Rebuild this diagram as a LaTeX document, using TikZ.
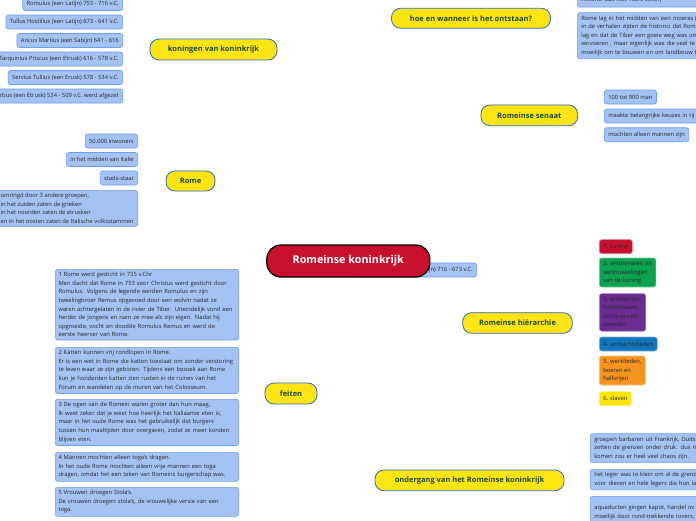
\documentclass[tikz,border=0pt]{standalone}
\usepackage{fontspec}
\setmainfont{Open Sans}
\usetikzlibrary{calc}
\definecolor{leafblue}{HTML}{A4C2F4}
\definecolor{leafborder}{HTML}{6D9EEB}
\definecolor{mainyellow}{HTML}{FFE414}
\definecolor{mainborder}{HTML}{2A6BC9}
\definecolor{maintext}{HTML}{1B4B2A}
\definecolor{ctrred}{HTML}{C8102E}
\definecolor{mgray}{HTML}{A8A8A8}
\definecolor{lfgray}{HTML}{CACACA}
\definecolor{textdark}{HTML}{262626}
\definecolor{hred}{HTML}{C8102E}
\definecolor{hgreen}{HTML}{0BA350}
\definecolor{hpurple}{HTML}{6A2C91}
\definecolor{hblue}{HTML}{1275BD}
\definecolor{horange}{HTML}{F7941D}
\definecolor{hyellow}{HTML}{FFE600}
\pgfdeclarelayer{bg}
\pgfsetlayers{bg,main}
\newcommand\lffont{\fontsize{5.8}{8.6}\selectfont}
\newcommand\mnfont{\bfseries\fontsize{7.5}{9}\selectfont}
\newcommand\ctfont{\bfseries\fontsize{10.8}{12}\selectfont}
\begin{document}
\begin{tikzpicture}[x=1pt,y=-1pt,
  leaf/.style={draw=leafborder,fill=leafblue,rounded corners=2.5pt,line width=0.6pt,inner xsep=4pt,inner ysep=3pt,minimum height=14pt,font=\lffont,align=left,text=textdark},
  hbox/.style={leaf,fill=#1,draw=#1!55!white},
  mainnode/.style={draw=mainborder,fill=mainyellow,rounded corners=9pt,line width=0.8pt,inner sep=0pt,font=\mnfont,text=maintext},
  ctrnode/.style={draw=black,fill=ctrred,rounded corners=14pt,line width=1.2pt,inner sep=0pt,font=\ctfont,text=white},
  mline/.style={draw=mgray,line width=0.9pt},
  lline/.style={draw=lfgray,line width=0.5pt}]
\useasboundingbox (0,0) rectangle (696,520);
\clip (0,0) rectangle (696,520);
\fill[white] (0,0) rectangle (696,520);

% main nodes
\node[mainnode,minimum width=127pt,minimum height=21pt] (kon) at (213.5,49.5) {koningen van koninkrijk};
\node[mainnode,minimum width=49pt,minimum height=20pt] (rome) at (190.5,181) {Rome};
\node[mainnode,minimum width=52pt,minimum height=21pt] (feit) at (291,393.5) {feiten};
\node[mainnode,minimum width=159pt,minimum height=20pt] (hoe) at (471,18.3) {hoe en wanneer is het ontstaan?};
\node[mainnode,minimum width=96.7pt,minimum height=20.7pt] (sen) at (529.3,115.3) {Romeinse senaat};
\node[mainnode,minimum width=109.6pt,minimum height=20.6pt] (hier) at (517.5,323) {Romeinse hiërarchie};
\node[mainnode,minimum width=189pt,minimum height=20.7pt] (ond) at (469.5,480.3) {ondergang van het Romeinse koninkrijk};

% koningen leaves
\node[leaf,anchor=east] (k1) at (123,3.5) {Romulus (een Latijn) 753 - 716 v.C.};
\node[leaf,anchor=east] (k2) at (123,22) {Tullus Hostilius (een Latijn) 673 - 641 v.C.};
\node[leaf,anchor=east] (k3) at (123,40.5) {Ancus Martius (een Sabijn) 641 - 616};
\node[leaf,anchor=east] (k4) at (123,59) {Tarquinius Priscus (een Etrusk) 616 - 578 v.C.};
\node[leaf,anchor=east] (k5) at (123,77.5) {Servius Tullius (een Erusk) 578 - 534 v.C.};
\node[leaf,anchor=east] (k6) at (123,96) {Tarquinius Superbus (een Etrusk) 534 - 509 v.C. werd afgezet};

% Rome leaves
\node[leaf,anchor=east] (r1) at (138,141) {50.000 inwoners};
\node[leaf,anchor=east] (r2) at (138,159.5) {in het midden van italie};
\node[leaf,anchor=east] (r3) at (138,178) {stads-staat};
\node[leaf,anchor=east] (r4) at (138,208.5) {omringd door 3 andere groepen,\\in het zuiden zaten de grieken\\in het noorden zaten de etrusken\\en in het oosten zaten de Italische volksstammen};

% feiten leaves
\node[leaf,anchor=north east,text width=177pt,inner xsep=3.2pt] (f1) at (239,269) {1 Rome werd gesticht in 735 v.Chr\\Men dacht dat Rome in 753 voor Christus werd gesticht door\\Romulus. Volgens de legende werden Romulus en zijn\\tweelingbroer Remus opgevoed door een wolvin nadat ze\\waren achtergelaten in de rivier de Tiber. Uiteindelijk vond een\\herder de jongens en nam ze mee als zijn eigen. Nadat hij\\opgroeide, vocht en doodde Romulus Remus en werd de\\eerste heerser van Rome.};
\node[leaf,anchor=north east,text width=177pt,inner xsep=3.2pt] (f2) at (239,347) {2 Katten kunnen vrij rondlopen in Rome.\\Er is een wet in Rome die katten toestaat om zonder verstoring\\te leven waar ze zijn geboren. Tijdens een bezoek aan Rome\\kun je honderden katten zien rusten in de ruines van het\\Forum en wandelen op de muren van het Colosseum.};
\node[leaf,anchor=north east,text width=177pt,inner xsep=3.2pt] (f3) at (239,399) {3 De ogen van de Romein waren groter dan hun maag.\\Ik weet zeker dat je weet hoe heerlijk het Italiaanse eten is,\\maar in het oude Rome was het gebruikelijk dat burgers\\tussen hun maaltijden door overgaven, zodat ze meer konden\\blijven eten.};
\node[leaf,anchor=north east,text width=177pt,inner xsep=3.2pt] (f4) at (239,452) {4 Mannen mochten alleen toga's dragen.\\In het oude Rome mochten alleen vrije mannen een toga\\dragen, omdat het een teken van Romeins burgerschap was.};
\node[leaf,anchor=north east,text width=177pt,inner xsep=3.2pt] (f5) at (239,487) {5 Vrouwen droegen Stola's.\\De vrouwen droegen stola's, de vrouwelijke versie van een\\toga.};

% hoe leaves
\node[leaf,anchor=south west,text width=125pt] (h1) at (577,7.3) {historici dus niet 100\% zeker)};
\node[leaf,anchor=north west,text width=125pt] (h2) at (577,12.3) {Rome lag in het midden van een moeras (\\in de verhalen zijden de historici dat Rome\\lag en dat de Tiber een goeie weg was om\\vervoeren , maar eigenlijk was die veel te\\moeilijk om te bouwen en om landbouw te};

% senaat leaves
\node[leaf,anchor=west] (s1) at (604,97) {100 tot 900 man};
\node[leaf,anchor=west,text width=100pt] (s2) at (604,116) {maakte belangrijke keuzes in tij};
\node[leaf,anchor=west] (s3) at (604,134.7) {mochten alleen mannen zijn};

% hierarchie leaves
\node[hbox=hred,anchor=north west] (e1) at (599,239.3) {1. koning};
\node[hbox=hgreen,anchor=north west] (e2) at (599,257.7) {2. ambtenaren en\\vertrouwelingen\\van de koning};
\node[hbox=hpurple,anchor=north west] (e3) at (599,293.3) {3. architecten,\\kunstenaren,\\schrijvers en\\priesters};
\node[hbox=hblue,anchor=north west] (e4) at (599,336.7) {4. ambachtslieden};
\node[hbox=horange,anchor=north west] (e5) at (599,355.7) {5. werklieden,\\boeren en\\halfvrijen};
\node[hbox=hyellow,anchor=north west] (e6) at (599,391.3) {6. slaven};

% ondergang leaves
\node[leaf,anchor=north west,text width=125pt] (o1) at (590,433.3) {groepen barbaren uit Frankrijk, Duits\\zetten de grenzen onder druk. dus m\\komen zou er heel veel chaos zijn.};
\node[leaf,anchor=north west,text width=125pt] (o2) at (590,469) {het leger was te klein om al de grenz\\voor dieven en hele legers die hun la};
\node[leaf,anchor=north west,text width=125pt,minimum height=32pt] (o3) at (590,496) {aquaducten gingen kapot, handel ov\\moeilijk door rond-trekkende rovers,};

% hidden leaf and centre
\node[leaf,anchor=east] (numa) at (477,270) {Numa Pompilius (een Sabijn) 716 - 673 v.C.};
\node[ctrnode,minimum width=163pt,minimum height=32pt] (ctr) at (348.3,261) {Romeinse koninkrijk};

\begin{pgfonlayer}{bg}
% main connectors
\draw[mline] (kon.east) .. controls (295,50) and (332,175) .. (ctr.center);
\draw[mline] (rome.east) .. controls (262,181) and (318,222) .. (ctr.center);
\draw[mline] (feit.east) .. controls (337,393) and (346,320) .. (ctr.center);
\draw[mline] (hoe.west) .. controls (374,20) and (354,150) .. (ctr.center);
\draw[mline] (sen.west) .. controls (420,117) and (372,195) .. (ctr.center);
\draw[mline] (hier.west) .. controls (418,322) and (380,290) .. (ctr.center);
\draw[mline] (ond.west) .. controls (358,478) and (352,340) .. (ctr.center);
% leaf connectors
\foreach \n in {k1,k2,k3,k4,k5,k6}
  \draw[lline] (kon.west) -- ++(-5,0) to[out=180,in=0] (\n.east);
\foreach \n in {r1,r2,r3,r4}
  \draw[lline] (rome.west) -- ++(-5,0) to[out=180,in=0] (\n.east);
\foreach \n in {f1,f2,f3,f4,f5}
  \draw[lline] (feit.west) -- ++(-3,0) to[out=180,in=0] (\n.east);
\foreach \n in {h1,h2}
  \draw[lline] (hoe.east) -- ++(4,0) to[out=0,in=180] (\n.west);
\foreach \n in {s1,s2,s3}
  \draw[lline] (sen.east) -- ++(5,0) to[out=0,in=180] (\n.west);
\foreach \n in {e1,e2,e3,e4,e5,e6}
  \draw[lline] (hier.east) -- ++(5,0) to[out=0,in=180] (\n.west);
\foreach \n in {o1,o2,o3}
  \draw[lline] (ond.east) -- ++(5,0) to[out=0,in=180] (\n.west);
\end{pgfonlayer}
\end{tikzpicture}
\end{document}
